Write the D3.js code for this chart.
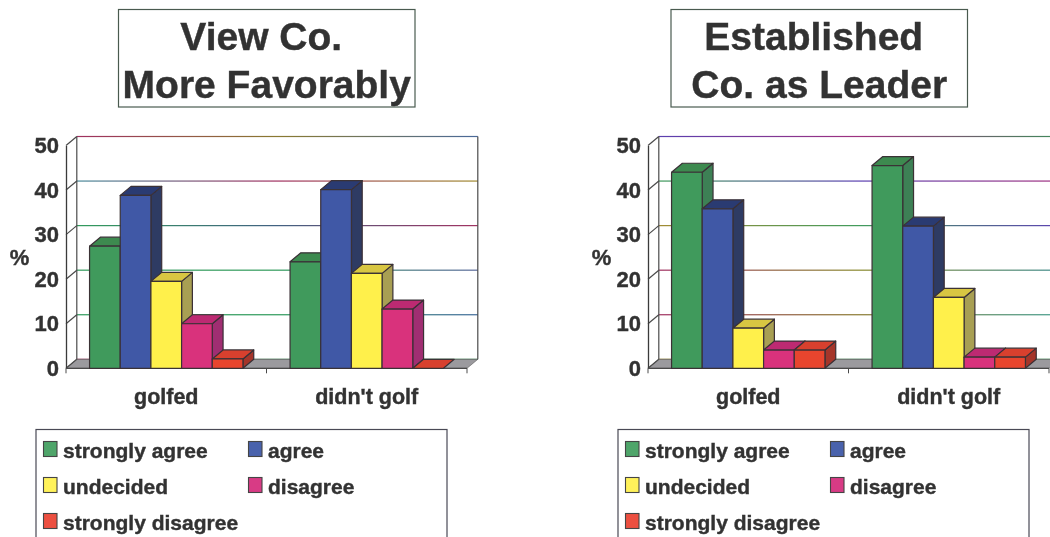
<!DOCTYPE html>
<html>
<head>
<meta charset="utf-8">
<script src="https://cdnjs.cloudflare.com/ajax/libs/d3/7.8.5/d3.min.js"></script>
<style>
html,body{margin:0;padding:0;background:#fff;overflow:hidden}
svg{display:block}
text{font-family:"Liberation Sans",Arial,sans-serif;font-weight:bold;fill:#333;stroke:#333;stroke-width:0.4px}
</style>
</head>
<body>
<svg id="chart" width="1050" height="537"></svg>
<script>
const categories = ["golfed", "didn't golf"];
const seriesNames = ["strongly agree", "agree", "undecided", "disagree", "strongly disagree"];
const yTicks = [0, 10, 20, 30, 40, 50];

const favorablyStronglyAgree = [27.4, 23.9];
const favorablyAgree = [38.8, 40.1];
const favorablyUndecided = [19.5, 21.3];
const favorablyDisagree = [10, 13.3];
const favorablyStronglyDisagree = [2.1, 0];

const leaderStronglyAgree = [44, 45.5];
const leaderAgree = [35.8, 31.9];
const leaderUndecided = [9, 15.9];
const leaderDisagree = [4.1, 2.5];
const leaderStronglyDisagree = [4.1, 2.5];

const titleFavorably = ["View Co.", "More Favorably"];
const titleLeader = ["Established", "Co. as Leader"];

const frontColors = ["#3f9a5c", "#3f58a6", "#fff04c", "#d9307c", "#e8452f"];
const topColors   = ["#3c8a50", "#2c3a72", "#d8c642", "#bd2c72", "#d8402e"];
const sideColors  = ["#3d8054", "#2f3a64", "#a89f52", "#a02f72", "#a5362b"];

const gridFavorably = [
  ["#a03060","#8a7a30","#4a6a9a"],
  ["#4a8a9a","#a03060","#a08a30"],
  ["#2f9a5a","#3f5f80","#a03060"],
  ["#2f9a5a","#2f9a5a","#5a6a9a"],
  ["#2f9a5a","#2f9a5a","#3f6a9a"],
  ["#a03060","#3f8a5a","#3f8a5a"]
];
const gridLeader = [
  ["#5a40b0","#a03080","#3f8a5a"],
  ["#3f9a5a","#5a40b0","#a03080"],
  ["#a08a30","#3f9a5a","#5a40b0"],
  ["#a03060","#8a8a30","#3f8a8a"],
  ["#a03060","#8a7a30","#3f9a8a"],
  ["#a08a30","#3f8a5a","#3f9a5a"]
];

const svg = d3.select("#chart");
const defs = svg.append("defs");
defs.append("filter").attr("id", "soft")
  .attr("x", "-2%").attr("y", "-2%").attr("width", "104%").attr("height", "104%")
  .append("feGaussianBlur").attr("stdDeviation", 0.45);
const root = svg.append("g").attr("filter", "url(#soft)");

const DX = 10.8, DY = 9;

function panel(opts, idx) {
  const g = root.append("g");
  const x0 = opts.x0, plotW = 401;
  const y = d3.scaleLinear().domain([0, 50]).range([368.3, 145.5]);
  const xCat = d3.scaleBand().domain(categories).range([x0, x0 + plotW]).paddingInner(0.235).paddingOuter(0.1175);
  const xBar = d3.scaleBand().domain(seriesNames).range([0, xCat.bandwidth()]);

  yTicks.forEach((t, i) => {
    const id = "grad" + idx + "_" + t;
    const lg = defs.append("linearGradient").attr("id", id)
      .attr("gradientUnits", "userSpaceOnUse")
      .attr("x1", x0 + DX).attr("x2", x0 + DX + plotW).attr("y1", 0).attr("y2", 0);
    opts.grid[yTicks.length - 1 - i].forEach((c, k) =>
      lg.append("stop").attr("offset", k / 2).attr("stop-color", c));
    g.append("rect")
      .attr("x", x0 + DX).attr("width", plotW)
      .attr("y", y(t) - DY - 0.6).attr("height", 1.2)
      .attr("fill", `url(#${id})`);
  });

  g.append("path")
    .attr("d", d3.line()([[x0, y(0)], [x0 + DX, y(0) - DY], [x0 + plotW + DX, y(0) - DY], [x0 + plotW, y(0)]]) + "Z")
    .attr("fill", "#9b9a9e").attr("stroke", "#555").attr("stroke-width", 0.6);

  const wall = g.append("g").attr("stroke", "#4a4a4a").attr("stroke-width", 1.2).attr("fill", "none");
  wall.append("line").attr("x1", x0 + DX).attr("x2", x0 + DX).attr("y1", y(50) - DY).attr("y2", y(0) - DY);
  wall.append("line").attr("x1", x0 + DX + plotW).attr("x2", x0 + DX + plotW).attr("y1", y(50) - DY).attr("y2", y(0) - DY);
  yTicks.forEach(t => {
    wall.append("line").attr("x1", x0).attr("x2", x0 + DX).attr("y1", y(t)).attr("y2", y(t) - DY);
  });

  const axisY = g.append("g").attr("transform", `translate(${x0},0)`)
    .call(d3.axisLeft(y).tickValues(yTicks).tickSize(0).tickPadding(7));
  axisY.select(".domain").attr("stroke", "#3a3a3a").attr("stroke-width", 1.3);
  axisY.selectAll("text").attr("font-size", 22).attr("fill", "#333")
    .style("font-family", '"Liberation Sans",Arial,sans-serif').style("font-weight", "bold");

  const axisX = g.append("g").attr("transform", `translate(0,${y(0)})`)
    .call(d3.axisBottom(xCat).tickSize(0).tickPadding(20));
  axisX.select(".domain").remove();
  axisX.selectAll("text").attr("font-size", 21.5).attr("fill", "#333")
    .style("font-family", '"Liberation Sans",Arial,sans-serif').style("font-weight", "bold");
  g.append("line").attr("x1", x0).attr("x2", x0 + plotW).attr("y1", y(0)).attr("y2", y(0))
    .attr("stroke", "#4a4a4a").attr("stroke-width", 1.2);
  [0, 1, 2].forEach(k => {
    const tx = x0 + k * xCat.step();
    g.append("line").attr("x1", tx).attr("x2", tx).attr("y1", y(0)).attr("y2", y(0) + 5)
      .attr("stroke", "#4a4a4a").attr("stroke-width", 1);
  });

  categories.forEach((c, ci) => {
    seriesNames.forEach((s, si) => {
      const v = opts.values[si][ci];
      const l = xCat(c) + xBar(s), w = xBar.bandwidth(), r = l + w;
      const t = y(v), b = y(0);
      const bar = g.append("g").attr("stroke", "#3a3036").attr("stroke-width", 1.2).attr("stroke-linejoin", "round");
      if (v > 0) {
        bar.append("path")
          .attr("d", d3.line()([[r, t], [r + DX, t - DY], [r + DX, b - DY], [r, b]]) + "Z")
          .attr("fill", sideColors[si]);
      }
      bar.append("path")
        .attr("d", d3.line()([[l, t], [l + DX, t - DY], [r + DX, t - DY], [r, t]]) + "Z")
        .attr("fill", topColors[si]);
      if (v > 0) {
        bar.append("rect").attr("x", l).attr("y", t).attr("width", w).attr("height", b - t)
          .attr("fill", frontColors[si]);
      }
    });
  });

  g.append("text").attr("x", x0 - 46.5).attr("y", 265).attr("text-anchor", "middle")
    .attr("font-size", 22).text("%");

  g.append("rect").attr("x", opts.titleX).attr("y", 9.5).attr("width", 296.5).attr("height", 97.5)
    .attr("fill", "#fff").attr("stroke", "#4a5a50").attr("stroke-width", 1.2);
  opts.title.forEach((line, i) => {
    g.append("text").attr("x", opts.titleX + 148.25 - (i === 0 ? 5.5 : 0)).attr("y", 50 + i * 47.5)
      .attr("text-anchor", "middle").attr("font-size", 39).text(line);
  });

  const lx = opts.legendX;
  g.append("rect").attr("x", lx).attr("y", 429.5).attr("width", 411).attr("height", 140)
    .attr("fill", "#fff").attr("stroke", "#4a4a55").attr("stroke-width", 1.2);
  const rowY = [450, 486, 522];
  const colX = [7, 212];
  const pos = [[0, 0], [1, 0], [0, 1], [1, 1], [0, 2]];
  const legendColors = ["#4fa56a", "#4a62ac", "#fff25a", "#d83a85", "#ec5040"];
  seriesNames.forEach((s, i) => {
    const [cx, ry] = pos[i];
    g.append("rect").attr("x", lx + colX[cx] + 0.5).attr("y", rowY[ry] - 8.5).attr("width", 13.5).attr("height", 15)
      .attr("fill", legendColors[i]).attr("stroke", "#444").attr("stroke-width", 1.1);
    g.append("text").attr("x", lx + colX[cx] + 20).attr("y", rowY[ry] + 7.5)
      .attr("font-size", 21).text(s);
  });
}

panel({
  x0: 66, titleX: 118.5, legendX: 36, title: titleFavorably, grid: gridFavorably,
  values: [favorablyStronglyAgree, favorablyAgree, favorablyUndecided, favorablyDisagree, favorablyStronglyDisagree]
}, 0);
panel({
  x0: 648, titleX: 671, legendX: 618, title: titleLeader, grid: gridLeader,
  values: [leaderStronglyAgree, leaderAgree, leaderUndecided, leaderDisagree, leaderStronglyDisagree]
}, 1);
</script>
</body>
</html>
